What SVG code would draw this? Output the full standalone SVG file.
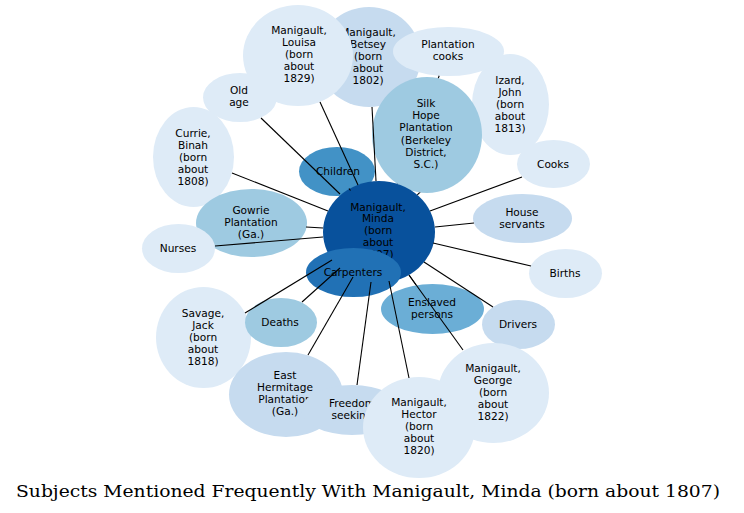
<svg xmlns="http://www.w3.org/2000/svg" width="744" height="513" viewBox="0 0 744 513">
<defs>
<style>
.n text{font-family:"DejaVu Sans","Liberation Sans",sans-serif;font-size:10.6px;text-anchor:middle;fill:#000}
.c0{fill:#deebf7}.c1{fill:#c6dbef}.c2{fill:#9ecae1}.c3{fill:#6baed6}.c4{fill:#4292c6}.c5{fill:#2171b5}.c6{fill:#08519c}
#edges line{stroke:#000;stroke-width:1.1;fill:none}
.title{font-family:"DejaVu Serif","Liberation Serif",serif;font-size:17px;fill:#000}
</style>
<mask id="behindSilk" maskUnits="userSpaceOnUse" x="0" y="0" width="744" height="513">
<rect x="0" y="0" width="744" height="513" fill="#fff"/>
<ellipse cx="427" cy="135" rx="55" ry="58" fill="#000"/>
</mask>
</defs>
<rect x="0" y="0" width="744" height="513" fill="#fff"/>
<g id="nodes">
<g class="n" id="betsey"><ellipse class="c1" cx="369" cy="57" rx="52" ry="50"/><text><tspan x="368" y="36">Manigault,</tspan><tspan x="368" y="48">Betsey</tspan><tspan x="368" y="60">(born</tspan><tspan x="368" y="72">about</tspan><tspan x="368" y="84">1802)</tspan></text></g>
<g class="n" id="louisa"><ellipse class="c0" cx="298" cy="55.5" rx="55" ry="50.5"/><text><tspan x="299" y="34">Manigault,</tspan><tspan x="299" y="46">Louisa</tspan><tspan x="299" y="58">(born</tspan><tspan x="299" y="70">about</tspan><tspan x="299" y="82">1829)</tspan></text></g>
<g class="n" id="oldage"><ellipse class="c0" cx="240" cy="97.5" rx="37" ry="24.5"/><text><tspan x="239" y="94">Old</tspan><tspan x="239" y="106">age</tspan></text></g>
<g class="n" id="currie"><ellipse class="c0" cx="193.5" cy="157" rx="40.5" ry="50"/><text><tspan x="193" y="136.5">Currie,</tspan><tspan x="193" y="148.5">Binah</tspan><tspan x="193" y="160.5">(born</tspan><tspan x="193" y="172.5">about</tspan><tspan x="193" y="184.5">1808)</tspan></text></g>
<g class="n" id="izard"><ellipse class="c0" cx="510.5" cy="104.5" rx="38.5" ry="50.5"/><text><tspan x="510" y="84">Izard,</tspan><tspan x="510" y="96">John</tspan><tspan x="510" y="108">(born</tspan><tspan x="510" y="120">about</tspan><tspan x="510" y="132">1813)</tspan></text></g>
<g class="n" id="plantationcooks"><ellipse class="c0" cx="448.5" cy="51.5" rx="55.5" ry="24.5"/><text><tspan x="448" y="48">Plantation</tspan><tspan x="448" y="60">cooks</tspan></text></g>
<g class="n" id="cooks"><ellipse class="c0" cx="553.5" cy="164" rx="36.5" ry="24"/><text><tspan x="553" y="167.5">Cooks</tspan></text></g>
<g class="n" id="gowrie"><ellipse class="c2" cx="251.5" cy="223" rx="55.5" ry="34"/><text><tspan x="251" y="214">Gowrie</tspan><tspan x="251" y="226">Plantation</tspan><tspan x="251" y="238">(Ga.)</tspan></text></g>
<g class="n" id="nurses"><ellipse class="c0" cx="178.5" cy="248.5" rx="36.5" ry="24.5"/><text><tspan x="178" y="252">Nurses</tspan></text></g>
<g class="n" id="children"><ellipse class="c4" cx="337" cy="171.5" rx="38" ry="24.5"/><text><tspan x="338" y="175">Children</tspan></text></g>
<g class="n" id="houseservants"><ellipse class="c1" cx="522.5" cy="218.5" rx="49.5" ry="24.5"/><text><tspan x="522" y="216">House</tspan><tspan x="522" y="228">servants</tspan></text></g>
<g class="n" id="births"><ellipse class="c0" cx="565.5" cy="273.5" rx="36.5" ry="24.5"/><text><tspan x="565" y="277">Births</tspan></text></g>
<g class="n" id="savage"><ellipse class="c0" cx="203.5" cy="337.5" rx="47.5" ry="50.5"/><text><tspan x="203" y="317">Savage,</tspan><tspan x="203" y="329">Jack</tspan><tspan x="203" y="341">(born</tspan><tspan x="203" y="353">about</tspan><tspan x="203" y="365">1818)</tspan></text></g>
<g class="n" id="deaths"><ellipse class="c2" cx="281" cy="322.5" rx="36" ry="24.5"/><text><tspan x="280" y="326">Deaths</tspan></text></g>
<g class="n" id="drivers"><ellipse class="c1" cx="518.5" cy="324.5" rx="36.5" ry="24.5"/><text><tspan x="518" y="327.5">Drivers</tspan></text></g>
<g class="n" id="enslaved"><ellipse class="c3" cx="432.5" cy="309" rx="51.5" ry="25"/><text><tspan x="432" y="306">Enslaved</tspan><tspan x="432" y="318">persons</tspan></text></g>
<g class="n" id="easthermitage"><ellipse class="c1" cx="286" cy="394.5" rx="57" ry="42.5"/><text><tspan x="285" y="379">East</tspan><tspan x="285" y="391">Hermitage</tspan><tspan x="285" y="403">Plantation</tspan><tspan x="285" y="415">(Ga.)</tspan></text></g>
<g class="n" id="freedom"><ellipse class="c1" cx="352" cy="410" rx="50.5" ry="25"/><text><tspan x="352" y="407">Freedom</tspan><tspan x="352" y="419">seeking</tspan></text></g>
<g class="n" id="george"><ellipse class="c0" cx="493.5" cy="393" rx="55.5" ry="50"/><text><tspan x="493" y="372">Manigault,</tspan><tspan x="493" y="384">George</tspan><tspan x="493" y="396">(born</tspan><tspan x="493" y="408">about</tspan><tspan x="493" y="420">1822)</tspan></text></g>
<g class="n" id="hector"><ellipse class="c0" cx="419" cy="427.5" rx="56" ry="50.5"/><text><tspan x="419" y="406">Manigault,</tspan><tspan x="419" y="418">Hector</tspan><tspan x="419" y="430">(born</tspan><tspan x="419" y="442">about</tspan><tspan x="419" y="454">1820)</tspan></text></g>
<g class="n" id="silkhope"><ellipse class="c2" cx="427" cy="135" rx="55" ry="58"/><text><tspan x="426" y="107">Silk</tspan><tspan x="426" y="119.2">Hope</tspan><tspan x="426" y="131.4">Plantation</tspan><tspan x="426" y="143.6">(Berkeley</tspan><tspan x="426" y="155.8">District,</tspan><tspan x="426" y="168">S.C.)</tspan></text></g>
<g class="n" id="minda"><ellipse class="c6" cx="379" cy="232" rx="56" ry="51"/><text><tspan x="378" y="210.5">Manigault,</tspan><tspan x="378" y="222.4">Minda</tspan><tspan x="378" y="234.3">(born</tspan><tspan x="378" y="246.2">about</tspan><tspan x="378" y="258.1">1807)</tspan></text></g>
<g class="n" id="carpenters"><ellipse class="c5" cx="353.5" cy="272.5" rx="47.5" ry="24.5"/><text><tspan x="353" y="276">Carpenters</tspan></text></g>
</g>
<g id="edges">
<line x1="439.2" y1="75.7" x2="397.5" y2="183.9" mask="url(#behindSilk)"/>
<line x1="479.5" y1="134.5" x2="417.3" y2="194.8" mask="url(#behindSilk)"/>
<line x1="261" y1="118" x2="340" y2="194"/>
<line x1="320" y1="102" x2="358" y2="185"/>
<line x1="372" y1="107" x2="376" y2="181"/>
<line x1="349" y1="188.5" x2="350.5" y2="190.5"/>
<line x1="522" y1="177" x2="430" y2="211"/>
<line x1="474" y1="223" x2="435" y2="227"/>
<line x1="531" y1="266" x2="433" y2="243"/>
<line x1="493" y1="307" x2="424" y2="262"/>
<line x1="463" y1="350" x2="409" y2="275"/>
<line x1="416" y1="285" x2="409" y2="275"/>
<line x1="409" y1="378" x2="389" y2="281"/>
<line x1="357" y1="385" x2="371" y2="282"/>
<line x1="308" y1="355" x2="353" y2="277"/>
<line x1="302" y1="302" x2="340" y2="268"/>
<line x1="245" y1="313" x2="332" y2="260"/>
<line x1="215" y1="246" x2="323" y2="237"/>
<line x1="306" y1="227" x2="323" y2="228"/>
<line x1="232" y1="173" x2="328" y2="211"/>
</g>
<text class="title" x="16" y="497" textLength="704" lengthAdjust="spacingAndGlyphs">Subjects Mentioned Frequently With Manigault, Minda (born about 1807)</text>
</svg>
